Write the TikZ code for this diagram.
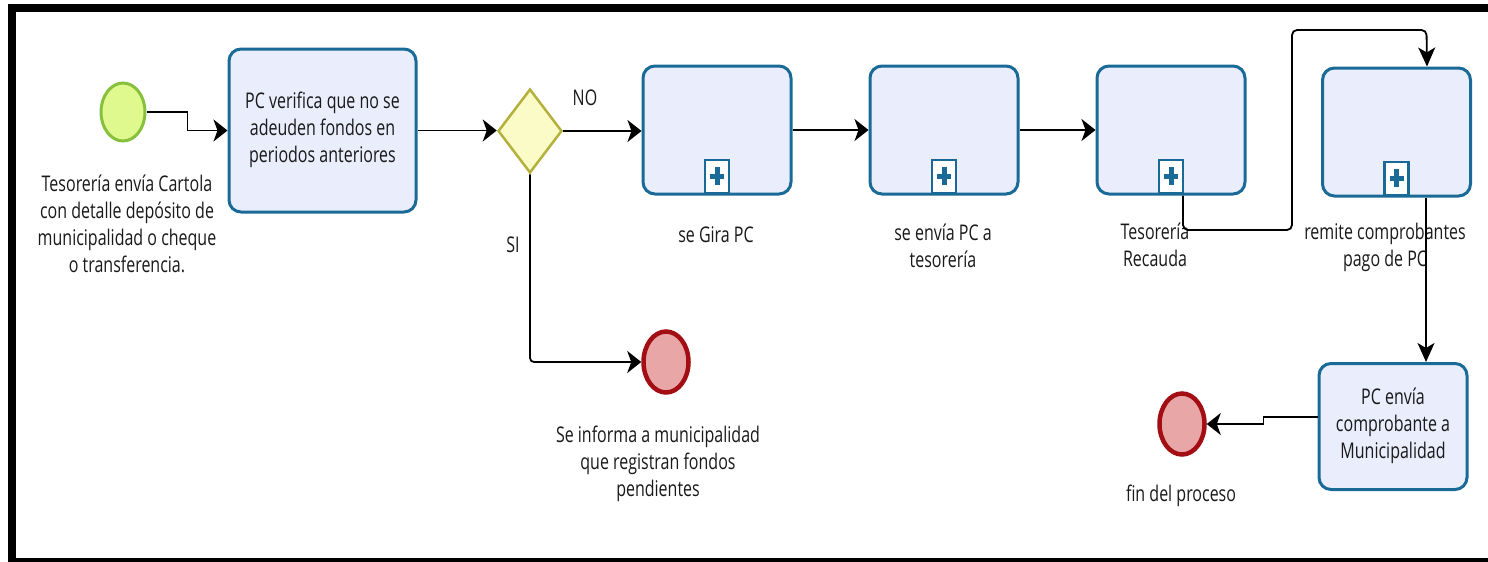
\documentclass[tikz,border=0pt]{standalone}
\usepackage{fontspec}
\setmainfont{Open Sans}
\usepackage{graphicx}
\usetikzlibrary{shapes.geometric,arrows.meta,calc}
\definecolor{boxfill}{HTML}{E9EDFC}
\definecolor{boxline}{HTML}{1A6A98}
\definecolor{startfill}{HTML}{E0F98F}
\definecolor{startline}{HTML}{86C03C}
\definecolor{gwfill}{HTML}{FBFBC8}
\definecolor{gwline}{HTML}{B3B03C}
\definecolor{endfill}{HTML}{E8A6A6}
\definecolor{endline}{HTML}{A30E14}
\newcommand\vt[1]{\scalebox{1}[1.35]{\begin{tabular}{@{}c@{}}#1\end{tabular}}}
\begin{document}
\begin{tikzpicture}[x=1pt,y=-1pt,
  every node/.style={font=\fontsize{16}{20}\selectfont, inner sep=0pt, text=black!90},
  task/.style={rectangle, draw=boxline, fill=boxfill, line width=3pt, rounded corners=12pt, minimum width=148pt, minimum height=128pt},
  startev/.style={ellipse, draw=startline, fill=startfill, line width=3pt, minimum width=44pt, minimum height=58pt},
  endev/.style={ellipse, draw=endline, fill=endfill, line width=4.5pt, minimum width=45pt, minimum height=61pt},
  gateway/.style={diamond, draw=gwline, fill=gwfill, line width=2.5pt, minimum width=64pt, minimum height=84pt},
  hflow/.style={draw=black, line width=1.8pt, -{Stealth[length=14pt,width=22pt,inset=4pt]}},
  vflow/.style={draw=black, line width=1.8pt, -{Stealth[length=19pt,width=17pt,inset=5pt]}},
  marker/.style={rectangle, draw=boxline, fill=white, line width=2.5pt, minimum width=24pt, minimum height=33pt},
  plus/.style={draw=boxline, line width=5pt}
]
\useasboundingbox (0,0) rectangle (1488,562);
\clip (0,0) rectangle (1488,562);
% frame
\draw[line width=8pt] (12,600) -- (12,8) -- (1600,8);
\draw[line width=6pt] (8,561) -- (1600,561);

% events and gateway
\node[startev] (st) at (123,112) {};
\node[gateway] (gw) at (530,131) {};
\node[endev] (e1) at (666,362) {};
\node[endev] (e2) at (1182,424) {};

% tasks
\node[task, minimum width=187pt, minimum height=163pt] (b1) at (322.5,130.5) {\vt{PC verifica que no se\\adeuden fondos en\\periodos anteriores}};
\node[task] (b2) at (717,130) {};
\node[task] (b3) at (944,130) {};
\node[task] (b4) at (1171,130) {};
\node[task] (b5) at (1396.5,132) {};
\node[task, minimum height=126pt] (b6) at (1393,426.5) {\vt{PC envía\\comprobante a\\Municipalidad}};

% collapsed sub-process markers
\foreach \b in {b2,b3,b4,b5}{
  \node[marker, anchor=south] (m\b) at ($(\b.south)+(0,-1.3)$) {};
  \draw[plus] ($(m\b.center)+(-7,0)$) -- ($(m\b.center)+(7,0)$);
  \draw[plus] ($(m\b.center)+(0,-9)$) -- ($(m\b.center)+(0,9)$);
}

% labels
\node (lst) at (127,227) {\vt{Tesorería envía Cartola\\con detalle depósito de\\municipalidad o cheque\\o transferencia.}};
\node (lno) at (585,100) {\vt{NO}};
\node (lsi) at (513,247) {\vt{SI}};
\node (l2) at (716,237) {\vt{se Gira PC}};
\node (l3) at (943,249) {\vt{se envía PC a\\tesorería}};
\node (l4) at (1155,248) {\vt{Tesorería\\Recauda}};
\node (l5) at (1385,248) {\vt{remite comprobantes\\pago de PC}};
\node (le1) at (658,464) {\vt{Se informa a municipalidad\\que registran fondos\\pendientes}};
\node (le2) at (1181,496) {\vt{fin del proceso}};

% connectors
\draw[hflow] (st.east) -- ++(41,0) |- (b1.west);
\draw[hflow] (b1.east) -- (b1.east -| gw.west);
\draw[hflow] (gw.east) -- (gw.east -| b2.west);
\draw[hflow] (b2.east) -- (b3.west);
\draw[hflow] (b3.east) -- (b4.west);
\draw[hflow, rounded corners=4pt] (gw.south) |- (e1.west);
\coordinate (c4) at ($(b4.south)+(12,0)$);
\coordinate (c5) at ($(b5.north)+(30.5,0)$);
\draw[vflow, rounded corners=5pt] (c4) -- (1183,230) -- (1292,230) -- (1292,30) -- (1426.5,30) -- (c5);
\draw[vflow] (b5.south -| 1426,0) -- (b6.north -| 1426,0);
\draw[hflow] ($(b6.west)+(0,-9.5)$) -- ++(-54,0) |- (e2.east);
\end{tikzpicture}
\end{document}
